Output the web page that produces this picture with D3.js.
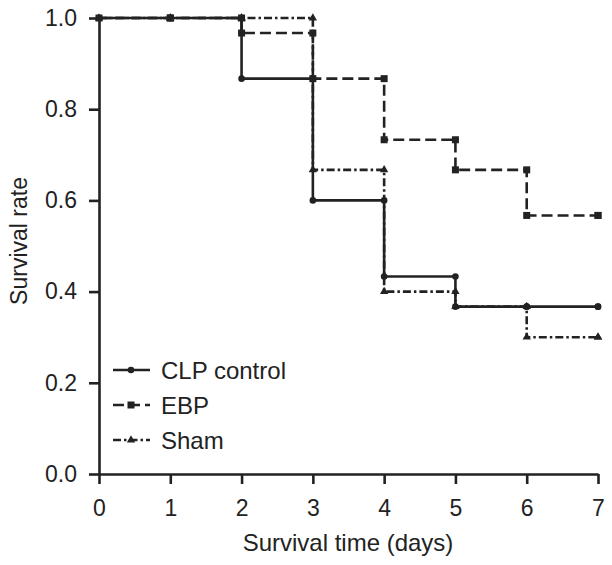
<!DOCTYPE html>
<html><head><meta charset="utf-8">
<script src="https://cdn.jsdelivr.net/npm/d3@7"></script>
<style>
body{margin:0;background:#fff;}
svg text{font-family:"Liberation Sans",Arial,Helvetica,sans-serif;fill:#222;}
</style></head>
<body><svg id="c" width="612" height="565"></svg>
<script>
const days = [0,1,2,3,4,5,6,7];
// survival values after events on each day (index = day)
const clpAfter  = [1,1,0.867,0.6,0.433,0.367,0.367,0.367];
const ebpAfter  = [1,1,0.967,0.867,0.733,0.667,0.567,0.567];
const shamAfter = [1,1,1,0.667,0.4,0.367,0.3,0.3];
const seriesNames = ["CLP control","EBP","Sham"];
const xTicks = [0,1,2,3,4,5,6,7];
const yTicks = [0,0.2,0.4,0.6,0.8,1.0];

const svg = d3.select("#c");
const ink = "#222";
const x = d3.scaleLinear().domain([0,7]).range([99,598]);
const y = d3.scaleLinear().domain([0,1]).range([474,18]);

const xAxis = svg.append("g").attr("transform","translate(0,474)")
  .call(d3.axisBottom(x).tickValues(xTicks).tickFormat(d3.format("d")).tickSize(10).tickSizeOuter(0).tickPadding(16));
const yAxis = svg.append("g").attr("transform","translate(99,0)")
  .call(d3.axisLeft(y).tickValues(yTicks).tickFormat(d3.format(".1f")).tickSize(10).tickSizeOuter(0).tickPadding(12));
[xAxis,yAxis].forEach(a=>{
  a.select(".domain").attr("stroke",ink).attr("stroke-width",2.6);
  a.selectAll(".tick line").attr("stroke",ink).attr("stroke-width",2.6);
  a.selectAll(".tick text").attr("font-size",23).attr("font-family","Liberation Sans, Arial, sans-serif").attr("fill",ink);
});

svg.append("text").attr("x",348).attr("y",551).attr("text-anchor","middle").attr("font-size",24).text("Survival time (days)");
svg.append("text").attr("transform","translate(27,241) rotate(-90)").attr("text-anchor","middle").attr("font-size",23).text("Survival rate");

const series = [
  {name:seriesNames[0], vals:clpAfter, dash:null, marker:"circle"},
  {name:seriesNames[1], vals:ebpAfter, dash:"11,5", marker:"square"},
  {name:seriesNames[2], vals:shamAfter, dash:"8,3,2.5,3", marker:"triangle"}
];
const line = d3.line().x(d=>x(d[0])).y(d=>y(d[1])).curve(d3.curveStepAfter);

function drawMarker(g, type, cx, cy){
  if(type==="circle") g.append("circle").attr("cx",cx).attr("cy",cy).attr("r",3.3).attr("fill",ink);
  else if(type==="square") g.append("rect").attr("x",cx-3.5).attr("y",cy-3.5).attr("width",7).attr("height",7).attr("fill",ink);
  else g.append("path").attr("d",d3.symbol().type(d3.symbolTriangle).size(30)()).attr("transform",`translate(${cx},${cy})`).attr("fill",ink);
}

[2,1,0].forEach(i=>{
  const s = series[i];
  const pts = days.map((d,k)=>[d,s.vals[k]]);
  const g = svg.append("g");
  g.append("path").attr("d",line(pts)).attr("fill","none").attr("stroke",ink)
    .attr("stroke-width",2.6).attr("stroke-dasharray",s.dash);
  days.forEach((d,k)=>{
    if(k>0) drawMarker(g,s.marker,x(d),y(s.vals[k-1]));
    drawMarker(g,s.marker,x(d),y(s.vals[k]));
  });
});

const legY = [370,405,440];
series.forEach((s,i)=>{
  const g = svg.append("g");
  g.append("line").attr("x1",113).attr("x2",150).attr("y1",legY[i]).attr("y2",legY[i])
    .attr("stroke",ink).attr("stroke-width",2.6).attr("stroke-dasharray",s.dash);
  drawMarker(g,s.marker,131,legY[i]);
  g.append("text").attr("x",161).attr("y",legY[i]).attr("dy","0.36em").attr("font-size",24).text(s.name);
});
</script></body></html>
